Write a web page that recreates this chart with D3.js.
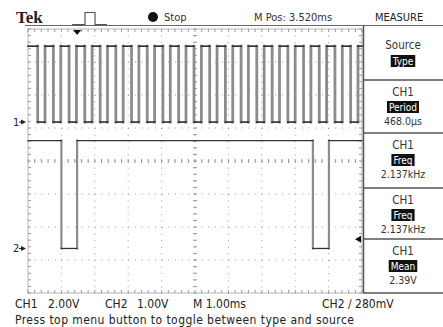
<!DOCTYPE html>
<html>
<head>
<meta charset="utf-8">
<script src="https://cdn.jsdelivr.net/npm/d3@7"></script>
<style>
  body { margin: 0; background: #fff; }
  svg { display: block; font-family: "DejaVu Sans Condensed", "Liberation Sans Narrow", sans-serif; }
</style>
</head>
<body>
<svg id="scope" width="443" height="327"></svg>
<script>
// Screen settings (1.00ms/div, 10 x 8 divisions)
const timeDomain = [0, 10]
const divDomain = [-4, 4]
const ch1VoltsPerDiv = 2.0
const ch2VoltsPerDiv = 1.0
const ch1GroundDiv = 1.18
const ch2GroundDiv = -2.65
const ch1HighVolts = 4.6
const ch2HighVolts = 3.27

// CH1 square wave edges (ms from left of screen)
const ch1Falls = [0.29, 0.76, 1.23, 1.70, 2.16, 2.63, 3.10, 3.57, 4.04, 4.51, 4.97, 5.44, 5.91, 6.38, 6.85, 7.31, 7.78, 8.25, 8.72, 9.19, 9.66]
const ch1Rises = [0.51, 0.98, 1.45, 1.92, 2.38, 2.85, 3.32, 3.79, 4.26, 4.73, 5.19, 5.66, 6.13, 6.60, 7.07, 7.53, 8.00, 8.47, 8.94, 9.41, 9.88]

// CH2 pulse edges (ms)
const ch2Falls = [1.00, 8.53]
const ch2Rises = [1.47, 9.01]

// Trigger
const triggerTime = 1.47
const triggerVolts = 0.28

// Measure menu
const menuHeads = ["Source", "CH1", "CH1", "CH1", "CH1"]
const menuBadges = ["Type", "Period", "Freq", "Freq", "Mean"]
const menuValues = ["", "468.0\u00b5s", "2.137kHz", "2.137kHz", "2.39V"]

// Status texts
const headerTexts = { brand: "Tek", state: "Stop", pos: "M Pos: 3.520ms", menu: "MEASURE" }
const footerItems = ["CH1", "2.00V", "CH2", "1.00V", "M 1.00ms", "CH2 \u2215 280mV"]
const footerMessage = "Press top menu button to toggle between type and source"

const svg = d3.select("#scope")

// Scales
const x = d3.scaleLinear().domain(timeDomain).range([28, 362])
const y = d3.scaleLinear().domain(divDomain).range([293, 29])
const ch1 = v => y(v / ch1VoltsPerDiv + ch1GroundDiv)
const ch2 = v => y(v / ch2VoltsPerDiv + ch2GroundDiv)

// Graticule
const grid = svg.append("g").attr("stroke", "#9a9a9a")
const minorX = d3.range(timeDomain[0], timeDomain[1] + 1e-6, 0.2)
const minorY = d3.range(divDomain[0], divDomain[1] + 1e-6, 0.2)
const stepX = x(0.2) - x(0)
const stepY = y(0) - y(0.2)
for (const t of d3.range(1, 10)) {
  if (t === 5) continue
  grid.append("line")
    .attr("x1", x(t)).attr("x2", x(t))
    .attr("y1", y(4)).attr("y2", y(-4) + 1)
    .attr("stroke-dasharray", `1 ${stepY - 1}`)
}
for (const d of d3.range(-3, 4)) {
  if (d === 0) continue
  grid.append("line")
    .attr("y1", y(d)).attr("y2", y(d))
    .attr("x1", x(0)).attr("x2", x(10) + 1)
    .attr("stroke-dasharray", `1 ${stepX - 1}`)
}
// centre cross with minor ticks
grid.append("line").attr("x1", x(5)).attr("x2", x(5)).attr("y1", y(4)).attr("y2", y(-4)).attr("stroke-dasharray", `1 ${stepY - 1}`)
grid.append("line").attr("y1", y(0)).attr("y2", y(0)).attr("x1", x(0)).attr("x2", x(10)).attr("stroke-dasharray", `1 ${stepX - 1}`)
grid.selectAll(".tx").data(minorY).join("line")
  .attr("x1", x(5) - 2).attr("x2", x(5) + 2)
  .attr("y1", d => y(d)).attr("y2", d => y(d))
grid.selectAll(".ty").data(minorX).join("line")
  .attr("y1", y(0) - 2).attr("y2", y(0) + 2)
  .attr("x1", d => x(d)).attr("x2", d => x(d))
// border
grid.append("rect")
  .attr("x", x(0)).attr("y", y(4))
  .attr("width", x(10) - x(0)).attr("height", y(-4) - y(4))
  .attr("fill", "none").attr("stroke", "#b5b5b5")
grid.selectAll(".bl").data(minorY).join("line")
  .attr("x1", x(0)).attr("x2", x(0) + 3).attr("y1", d => y(d)).attr("y2", d => y(d))
grid.selectAll(".br").data(minorY).join("line")
  .attr("x1", x(10) - 3).attr("x2", x(10)).attr("y1", d => y(d)).attr("y2", d => y(d))
grid.selectAll(".bt").data(minorX).join("line")
  .attr("y1", y(4)).attr("y2", y(4) + 3).attr("x1", d => x(d)).attr("x2", d => x(d))
grid.selectAll(".bb").data(minorX).join("line")
  .attr("y1", y(-4) - 3).attr("y2", y(-4)).attr("x1", d => x(d)).attr("x2", d => x(d))

// Build step traces from edge lists
function steps(falls, rises, high) {
  const flat = [], edges = []
  let t = timeDomain[0]
  falls.forEach((f, i) => {
    flat.push([t, f, high])
    edges.push([f, high, 0])
    flat.push([f, rises[i], 0])
    edges.push([rises[i], 0, high])
    t = rises[i]
  })
  flat.push([t, timeDomain[1], high])
  return { flat, edges }
}

function drawTrace(trace, yv, edgeColor, edgeWidth, flatColor, flatWidth) {
  const g = svg.append("g").attr("stroke-linecap", "square")
  g.selectAll(".edge").data(trace.edges).join("line")
    .attr("x1", d => x(d[0])).attr("x2", d => x(d[0]))
    .attr("y1", d => yv(d[1])).attr("y2", d => yv(d[2]))
    .attr("stroke", edgeColor).attr("stroke-width", edgeWidth)
  g.selectAll(".flat").data(trace.flat).join("line")
    .attr("x1", d => x(d[0])).attr("x2", d => x(d[1]))
    .attr("y1", d => yv(d[2])).attr("y2", d => yv(d[2]))
    .attr("stroke", flatColor).attr("stroke-width", flatWidth)
}

drawTrace(steps(ch1Falls, ch1Rises, ch1HighVolts), ch1, "#8c8c8c", 2.8, "#2a2a2a", 1.6)
drawTrace(steps(ch2Falls, ch2Rises, ch2HighVolts), ch2, "#8c8c8c", 2.2, "#333", 1.3)

// Channel ground markers
const markers = svg.append("g").attr("fill", "#222")
for (const [label, yy] of [["1", ch1(0)], ["2", ch2(0)]]) {
  markers.append("text").attr("x", 13).attr("y", yy + 4).attr("font-size", 11).text(label)
  markers.append("path").attr("d", `M21,${yy - 2.5}L26,${yy}L21,${yy + 2.5}Z`)
  markers.append("line").attr("x1", 19).attr("x2", 23).attr("y1", yy).attr("y2", yy).attr("stroke", "#222")
}

// Trigger position and level markers
svg.append("path")
  .attr("d", `M${x(triggerTime) - 4},${y(4) + 1}L${x(triggerTime) + 4},${y(4) + 1}L${x(triggerTime)},${y(4) + 6}Z`)
  .attr("fill", "#111")
svg.append("path")
  .attr("d", `M${x(10) - 7},${ch2(triggerVolts)}L${x(10) - 1},${ch2(triggerVolts) - 3.5}L${x(10) - 1},${ch2(triggerVolts) + 3.5}Z`)
  .attr("fill", "#111")

// Header
svg.append("line").attr("x1", 25).attr("x2", 443).attr("y1", 25.5).attr("y2", 25.5).attr("stroke", "#666")
svg.append("text")
  .attr("x", 16).attr("y", 23)
  .attr("font-family", "Liberation Serif, serif").attr("font-weight", "bold").attr("font-size", 17)
  .attr("fill", "#222").text(headerTexts.brand)
svg.append("path")
  .attr("d", "M72,24.5H85V12.5H95V24.5H107")
  .attr("fill", "none").attr("stroke", "#555").attr("stroke-width", 1.2)
svg.append("circle").attr("cx", 153).attr("cy", 17).attr("r", 5).attr("fill", "#111")
svg.append("text").attr("x", 164).attr("y", 21).attr("font-size", 11).attr("fill", "#333").text(headerTexts.state)
svg.append("text").attr("x", 254).attr("y", 21).attr("font-size", 11).attr("fill", "#333").text(headerTexts.pos)
svg.append("text").attr("x", 375).attr("y", 21).attr("font-size", 11).attr("fill", "#222").text(headerTexts.menu)

// Measure menu panel
const boxTops = [26, 80, 133, 188, 239]
const boxBottom = 293
const panel = svg.append("g")
panel.append("line").attr("x1", 363.5).attr("x2", 363.5).attr("y1", 26).attr("y2", boxBottom).attr("stroke", "#555").attr("stroke-width", 1.5)
panel.selectAll(".sep").data(boxTops.slice(1).concat([boxBottom])).join("line")
  .attr("x1", 363).attr("x2", 443).attr("y1", d => d).attr("y2", d => d)
  .attr("stroke", "#555").attr("stroke-width", 1.5)
menuHeads.forEach((head, i) => {
  const top = boxTops[i]
  const first = i === 0
  const headY = first ? top + 23 : top + 16
  const badgeY = first ? top + 35 : top + 27
  panel.append("text").attr("x", 403).attr("y", headY).attr("text-anchor", "middle")
    .attr("font-size", 11.5).attr("fill", "#333").text(head)
  const badge = panel.append("text").attr("x", 403).attr("y", badgeY + 4).attr("text-anchor", "middle")
    .attr("font-size", 10).attr("fill", "#fff").text(menuBadges[i])
  const w = badge.node().getComputedTextLength() + 4
  panel.insert("rect", () => badge.node())
    .attr("x", 403 - w / 2).attr("y", badgeY - 6).attr("width", w).attr("height", 12).attr("fill", "#111")
  if (menuValues[i])
    panel.append("text").attr("x", 403).attr("y", badgeY + 18).attr("text-anchor", "middle")
      .attr("font-size", 10.5).attr("fill", "#333").text(menuValues[i])
})

// Footer
const footerX = [15, 48, 105, 137, 193, 322]
const footer = svg.append("g").attr("font-size", 12).attr("fill", "#222")
footer.selectAll("text").data(footerItems).join("text")
  .attr("x", (d, i) => footerX[i]).attr("y", 308).text(d => d)
footer.append("text").attr("x", 15).attr("y", 324)
  .attr("textLength", 339).attr("lengthAdjust", "spacing")
  .text(footerMessage)
</script>
</body>
</html>
